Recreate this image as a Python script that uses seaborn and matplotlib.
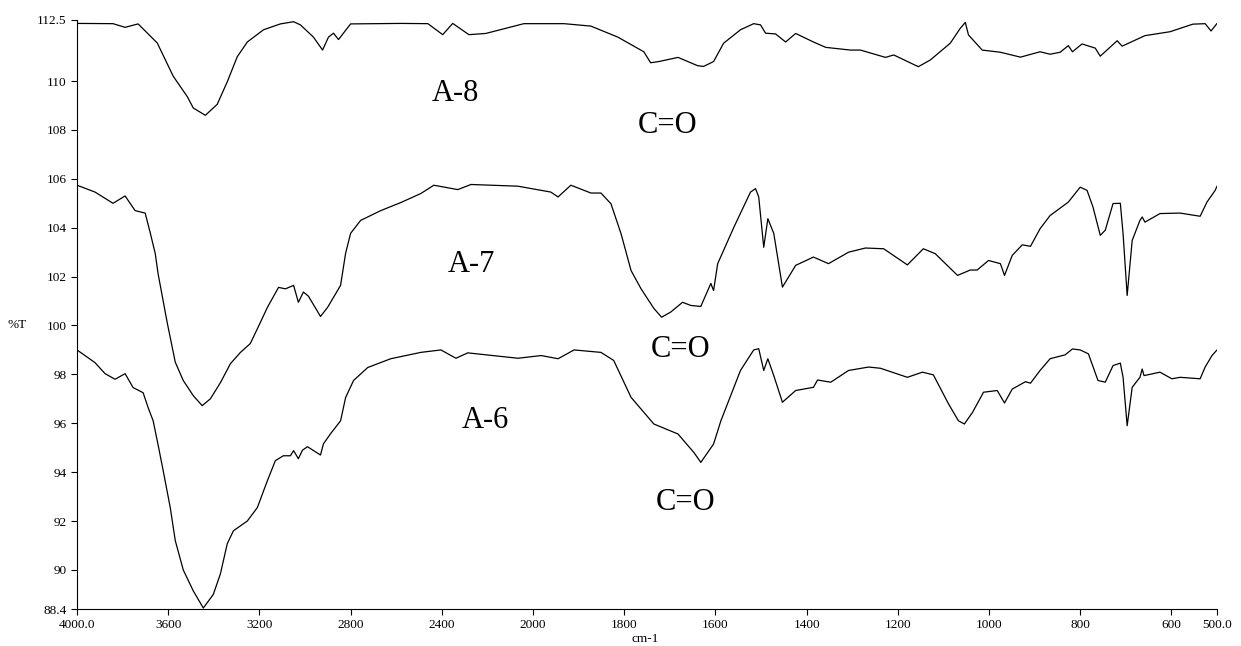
import numpy as np
import pandas as pd
import matplotlib
matplotlib.use('Agg')
import matplotlib.pyplot as plt
import seaborn as sns

# --- du lieu doc tu hinh (so song cm-1, %T) ---
wn_a8 = [4000, 3842, 3789, 3732, 3648, 3578, 3516, 3490, 3437, 3385, 3341, 3297, 3253, 3182, 3108, 3050, 3020,
         2963, 2923, 2897, 2875, 2853, 2800, 2580, 2461, 2396, 2352, 2281, 2207, 2040, 1972, 1932,
         1873, 1814, 1757, 1742, 1724, 1682, 1639, 1626, 1604, 1582, 1545, 1516, 1501, 1490, 1468,
         1446, 1424, 1385, 1358, 1304, 1282, 1227, 1209, 1155, 1129, 1085, 1063, 1052, 1045, 1015,
         975, 931, 888, 866, 844, 826, 817, 796, 767, 756, 719, 708, 658, 603, 553, 526, 513, 500]
t_a8 = [112.36, 112.35, 112.2, 112.34, 111.56, 110.2, 109.36, 108.9, 108.6, 109.05, 109.97, 111.0, 111.6, 112.1, 112.34, 112.43, 112.3,
        111.8, 111.27, 111.8, 111.96, 111.7, 112.34, 112.36, 112.35, 111.9, 112.36, 111.9, 111.95, 112.35, 112.35, 112.35,
        112.25, 111.8, 111.2, 110.75, 110.8, 110.97, 110.63, 110.6, 110.8, 111.55, 112.1, 112.35, 112.3, 111.96, 111.93,
        111.6, 111.95, 111.6, 111.38, 111.27, 111.27, 110.97, 111.07, 110.59, 110.86, 111.55, 112.16, 112.4, 111.89, 111.27,
        111.18, 110.98, 111.2, 111.1, 111.18, 111.45, 111.2, 111.52, 111.35, 111.02, 111.65, 111.43, 111.86, 112.02, 112.33, 112.35, 112.05, 112.36]

wn_a7 = [4000, 3921, 3842, 3789, 3745, 3701, 3679, 3657, 3644, 3604, 3569, 3534, 3490, 3451, 3415,
         3371, 3327, 3283, 3240, 3196, 3165, 3116, 3086, 3050, 3029, 3007, 2985, 2932, 2901, 2875,
         2844, 2822, 2800, 2756, 2668, 2580, 2492, 2435, 2330, 2272, 2066, 1961, 1945, 1917, 1873,
         1851, 1829, 1807, 1785, 1763, 1735, 1718, 1698, 1672, 1654, 1632, 1610, 1604, 1595, 1560,
         1523, 1512, 1505, 1494, 1485, 1472, 1453, 1424, 1385, 1352, 1308, 1271, 1231, 1179, 1144,
         1118, 1069, 1041, 1026, 1001, 975, 966, 949, 927, 909, 888, 866, 826, 800, 785,
         772, 756, 745, 728, 712, 706, 697, 686, 669, 664, 658, 625, 581, 537, 522, 504, 500]
t_a7 = [105.74, 105.46, 105.0, 105.3, 104.7, 104.6, 103.8, 102.95, 102.1, 100.1, 98.5, 97.75, 97.13, 96.72, 97.0,
        97.66, 98.44, 98.9, 99.26, 100.12, 100.74, 101.56, 101.5, 101.64, 100.95, 101.37, 101.2, 100.37, 100.74, 101.15,
        101.64, 102.95, 103.77, 104.3, 104.7, 105.03, 105.4, 105.74, 105.56, 105.77, 105.7, 105.46, 105.26, 105.74, 105.42,
        105.42, 104.98, 103.76, 102.25, 101.5, 100.7, 100.34, 100.55, 100.95, 100.82, 100.78, 101.72, 101.43, 102.53, 104.0,
        105.46, 105.6, 105.26, 103.2, 104.37, 103.77, 101.57, 102.46, 102.8, 102.53, 103.0, 103.17, 103.14, 102.48, 103.14,
        102.94, 102.05, 102.27, 102.27, 102.66, 102.53, 102.05, 102.87, 103.3, 103.24, 103.96, 104.5, 105.05, 105.66, 105.53,
        104.85, 103.69, 103.9, 104.99, 105.0, 103.76, 101.23, 103.48, 104.3, 104.44, 104.23, 104.58, 104.6, 104.47, 105.05, 105.53, 105.7]

wn_a6 = [4000, 3921, 3877, 3833, 3789, 3754, 3710, 3688, 3666, 3644, 3622, 3591, 3569, 3534, 3490,
         3446, 3402, 3371, 3341, 3314, 3253, 3209, 3165, 3130, 3095, 3064, 3050, 3029, 3011, 2989,
         2932, 2919, 2888, 2844, 2822, 2787, 2725, 2624, 2492, 2404, 2338, 2286, 2066, 1982, 1945,
         1910, 1851, 1823, 1785, 1735, 1682, 1647, 1632, 1604, 1588, 1545, 1516, 1505, 1494, 1485,
         1472, 1453, 1424, 1385, 1376, 1347, 1308, 1264, 1238, 1179, 1146, 1122, 1089, 1067, 1054,
         1036, 1012, 982, 966, 949, 920, 909, 888, 866, 833, 817, 800, 782, 761, 745,
         728, 712, 706, 697, 686, 669, 664, 660, 625, 599, 581, 537, 526, 511, 500]
t_a6 = [99.0, 98.48, 98.03, 97.8, 98.03, 97.46, 97.25, 96.64, 96.1, 95.1, 94.06, 92.55, 91.2, 90.0, 89.14,
        88.44, 89.0, 89.84, 91.07, 91.6, 92.0, 92.55, 93.65, 94.47, 94.67, 94.67, 94.88, 94.55, 94.9, 95.04,
        94.7, 95.16, 95.57, 96.1, 97.05, 97.75, 98.28, 98.64, 98.9, 99.0, 98.66, 98.88, 98.66, 98.77, 98.64,
        99.0, 98.9, 98.57, 97.06, 95.97, 95.56, 94.8, 94.4, 95.15, 96.1, 98.16, 99.0, 99.05, 98.16, 98.64,
        97.95, 96.86, 97.34, 97.47, 97.77, 97.68, 98.16, 98.3, 98.25, 97.88, 98.09, 97.98, 96.8, 96.1, 95.97,
        96.45, 97.27, 97.34, 96.83, 97.4, 97.7, 97.64, 98.16, 98.64, 98.8, 99.04, 99.0, 98.84, 97.75, 97.68,
        98.36, 98.46, 97.88, 95.9, 97.47, 97.88, 98.22, 97.95, 98.09, 97.82, 97.88, 97.82, 98.3, 98.77, 99.0]

x_ticks = [4000, 3600, 3200, 2800, 2400, 2000, 1800, 1600, 1400, 1200, 1000, 800, 600, 500]
x_labels = ['4000.0', '3600', '3200', '2800', '2400', '2000', '1800', '1600', '1400', '1200',
            '1000', '800', '600', '500.0']
y_ticks = [88.4, 90, 92, 94, 96, 98, 100, 102, 104, 106, 108, 110, 112.5]
y_labels = ['88.4', '90', '92', '94', '96', '98', '100', '102', '104', '106', '108', '110', '112.5']

# nhan tren hinh: (chu, so song, %T)
notes = [('A-8', 2338, 109.5), ('C=O', 1704, 108.2),
         ('A-7', 2272, 102.5), ('C=O', 1676, 99.0),
         ('A-6', 2207, 96.1), ('C=O', 1665, 92.75)]

sns.set_style('ticks')
plt.rcParams['font.family'] = ['Liberation Serif', 'DejaVu Serif']
plt.rcParams['text.color'] = 'black'


# thang do chia doi: duoi 2000 cm-1 gian gap doi
def fwd(w):
    w = np.asarray(w, dtype=float)
    return np.where(w >= 2000, w, 2 * w - 2000)


def inv(t):
    t = np.asarray(t, dtype=float)
    return np.where(t >= 2000, t, (t + 2000) / 2)


fig = plt.figure(figsize=(12.41, 6.46), dpi=100)
ax = fig.add_axes([77 / 1241, 37 / 646, 1140 / 1241, 589 / 646])
ax.set_xscale('function', functions=(fwd, inv))

for wn, t in [(wn_a8, t_a8), (wn_a7, t_a7), (wn_a6, t_a6)]:
    df = pd.DataFrame({'wn': wn, 't': t})
    sns.lineplot(data=df, x='wn', y='t', sort=False, estimator=None, color='black',
                 linewidth=0.9, ax=ax)

ax.set_xlim(4000, 500)
ax.set_ylim(88.4, 112.5)
ax.set_xticks(x_ticks)
ax.set_xticklabels(x_labels)
ax.set_yticks(y_ticks)
ax.set_yticklabels(y_labels)
ax.minorticks_off()
ax.tick_params(axis='both', labelsize=9.5, length=4, width=0.8, colors='black')
ax.set_xlabel('')
ax.set_ylabel('')
for side in ['top', 'right']:
    ax.spines[side].set_visible(False)
for side in ['left', 'bottom']:
    ax.spines[side].set_linewidth(0.8)
    ax.spines[side].set_color('black')

for txt, x, y in notes:
    ax.text(x, y, txt, fontsize=22, ha='center', va='center', color='black')

fig.text(8 / 1241, 1 - 325 / 646, '%T', fontsize=9.5, ha='left', va='center', color='black')
fig.text(645 / 1241, 1 - 639 / 646, 'cm-1', fontsize=9.5, ha='center', va='center', color='black')

fig.savefig('out.png', dpi=100)
